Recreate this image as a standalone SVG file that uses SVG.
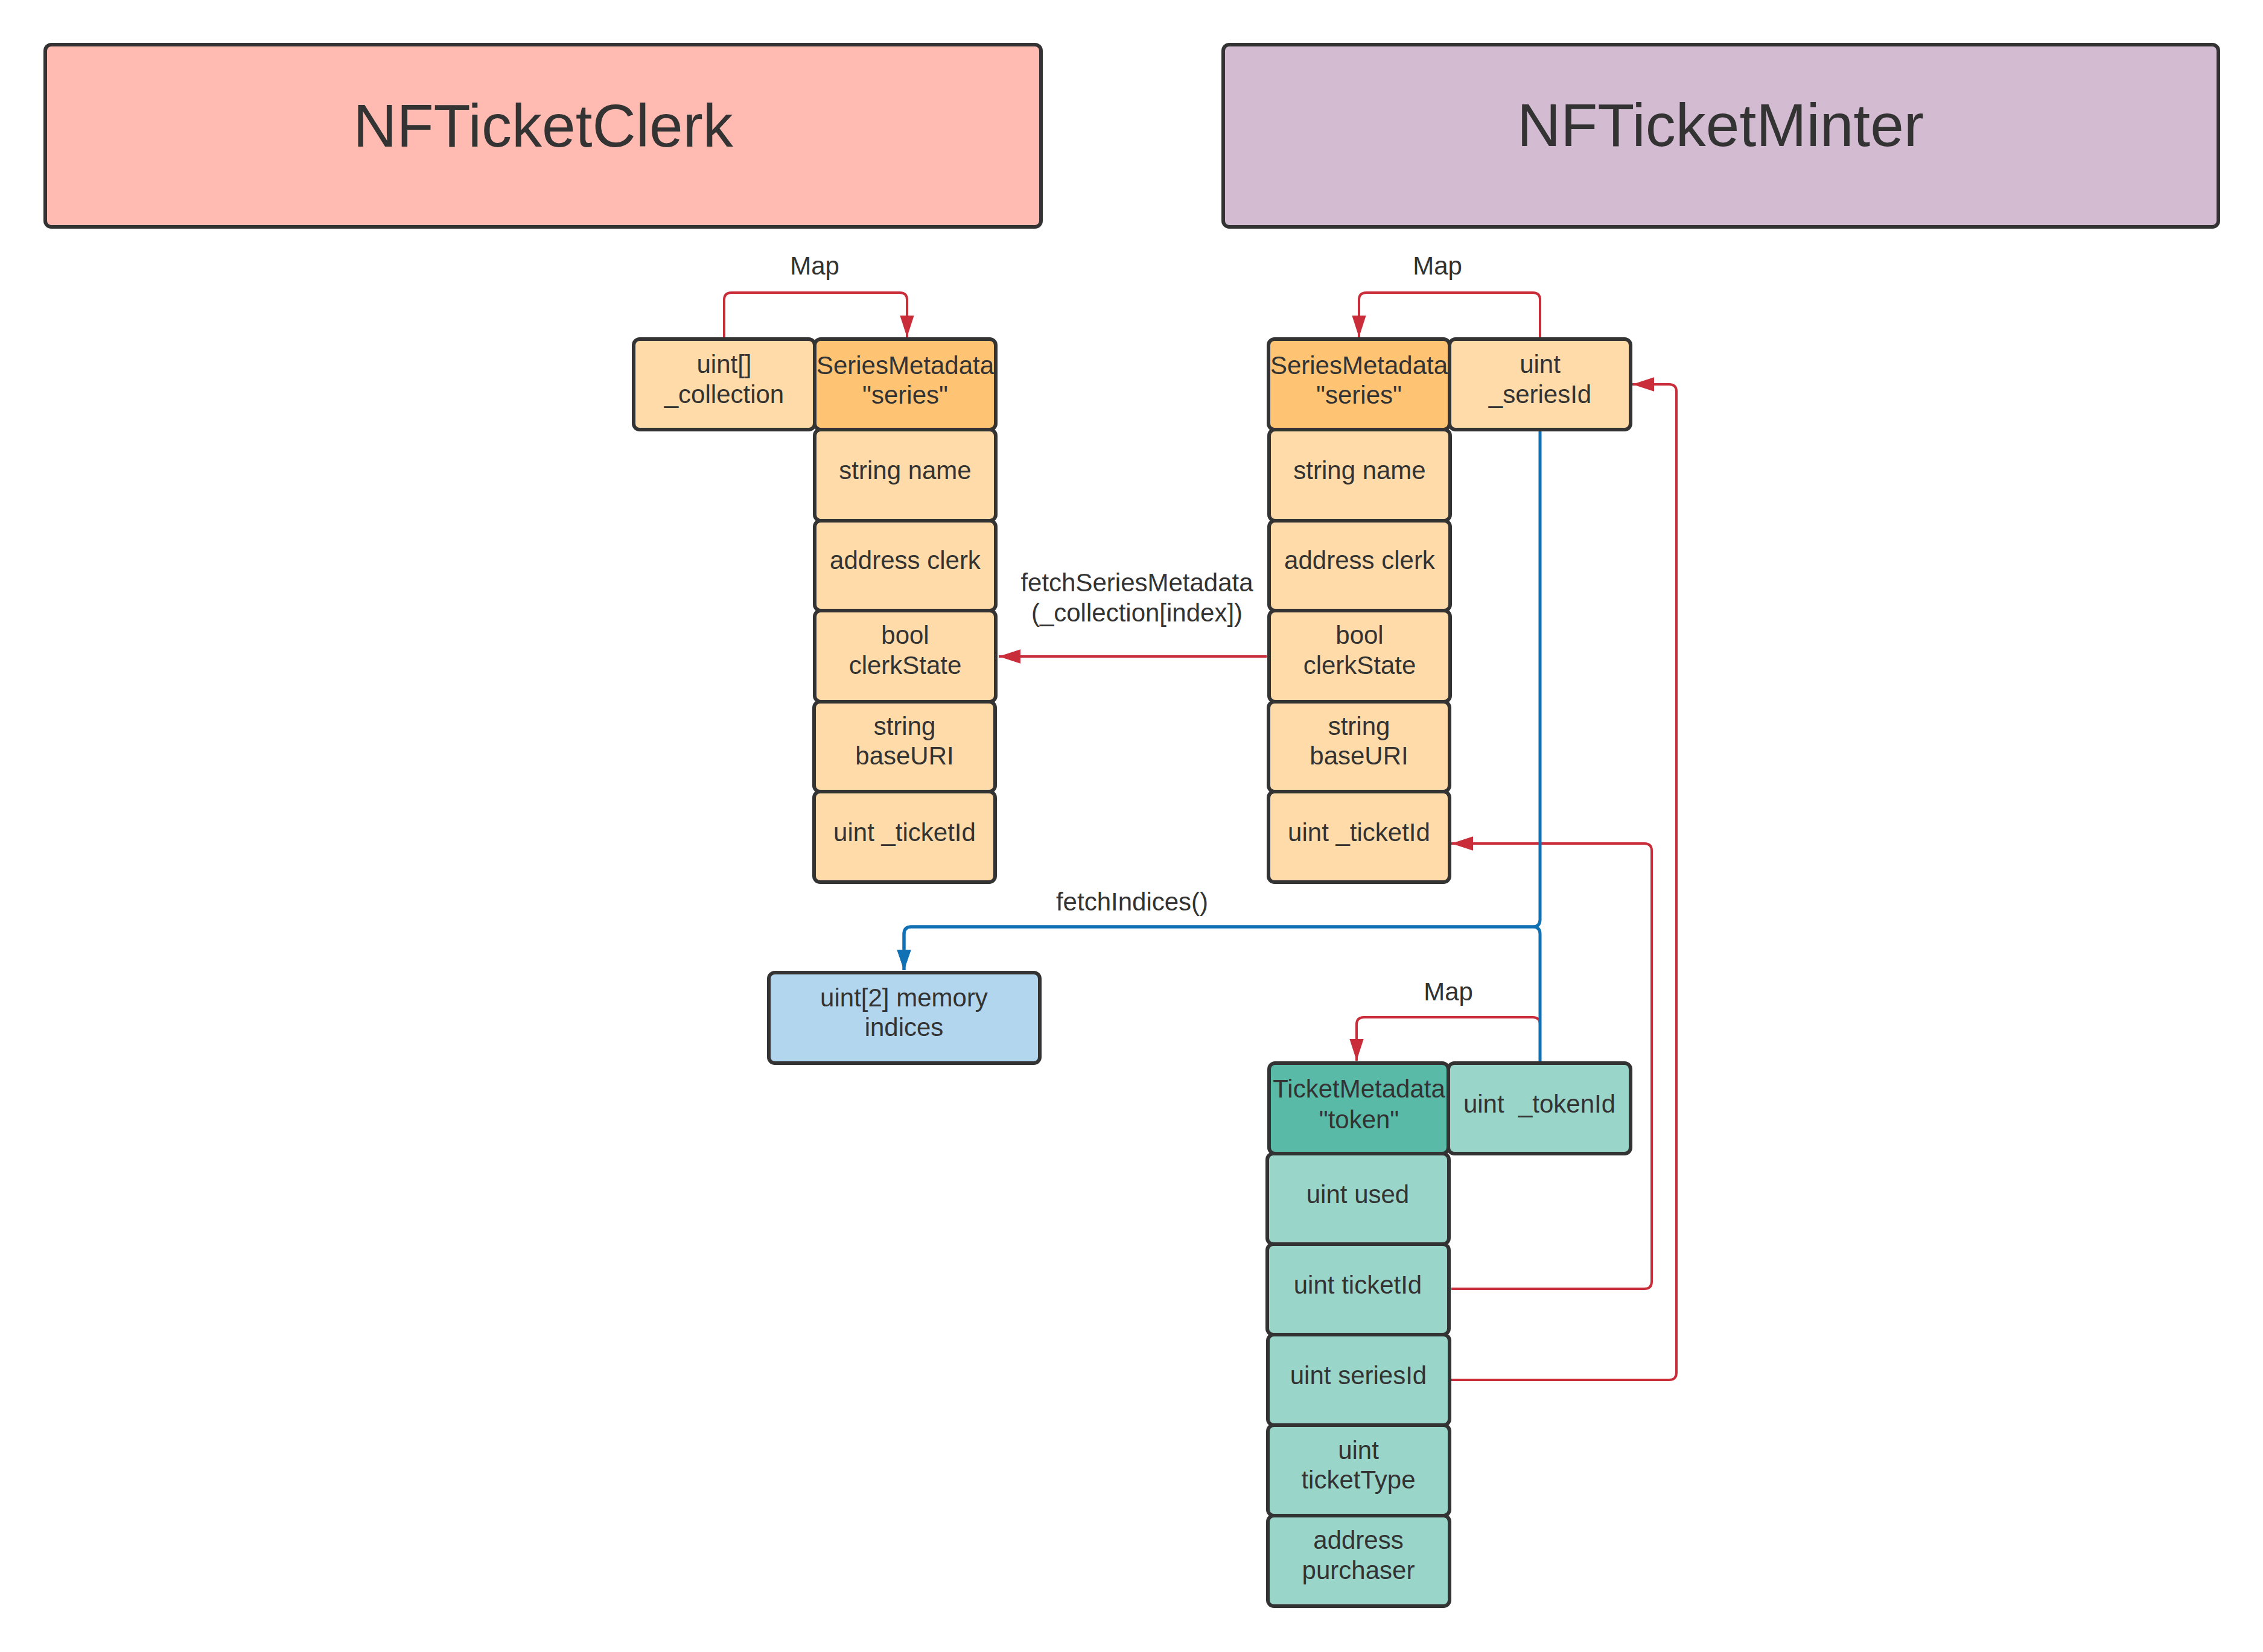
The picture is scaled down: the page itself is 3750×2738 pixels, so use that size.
<svg xmlns="http://www.w3.org/2000/svg" width="3750" height="2738" viewBox="0 0 3750 2738">
<defs>
<style>
.box{stroke:#333333;stroke-width:6}
.title{font-family:"Liberation Sans",Arial,sans-serif;font-size:100px;fill:#333333;text-anchor:middle}
.t{font-family:"Liberation Sans",Arial,sans-serif;font-size:42px;fill:#333333;text-anchor:middle;white-space:pre}
.lo{fill:#FFDBA9}
.ho{fill:#FFC374}
.lt{fill:#9AD5CA}
.ht{fill:#58BAA7}
.red{fill:none;stroke:#C92D39;stroke-width:4}
.blue{fill:none;stroke:#1071B5;stroke-width:5}
</style>
<marker id="ar" markerUnits="userSpaceOnUse" markerWidth="36" markerHeight="24" viewBox="0 0 34 22" refX="34" refY="11" orient="auto">
<path d="M0,0 L34,11 L0,22 z" fill="#C92D39"/>
</marker>
<marker id="ab" markerUnits="userSpaceOnUse" markerWidth="34" markerHeight="24" viewBox="0 0 32 22" refX="32" refY="11" orient="auto">
<path d="M0,0 L32,11 L0,22 z" fill="#1071B5"/>
</marker>
</defs>
<rect width="3750" height="2738" fill="#FFFFFF"/>

<g id="clerk-title">
<rect class="box" x="75" y="74" width="1650" height="302" rx="10" fill="#FFBBB1"/>
<text class="title" x="900" y="243">NFTicketClerk</text>
</g>
<g id="minter-title">
<rect class="box" x="2027" y="74" width="1649" height="302" rx="10" fill="#D3BCD2"/>
<text class="title" x="2851" y="242">NFTicketMinter</text>
</g>

<g id="connectors">
<path class="red" d="M1200 559 V497 Q1200 485 1212 485 H1491 Q1503 485 1503 497 V559" marker-end="url(#ar)"/>
<path class="red" d="M2552 559 V497 Q2552 485 2540 485 H2264 Q2252 485 2252 497 V559" marker-end="url(#ar)"/>
<path class="red" d="M2099 1088 H1655" marker-end="url(#ar)"/>
<path class="red" d="M2552 1759 V1698 Q2552 1686 2540 1686 H2260 Q2248 1686 2248 1698 V1758" marker-end="url(#ar)"/>
<path class="red" d="M2405 2136 H2725 Q2737 2136 2737 2124 V1410 Q2737 1398 2725 1398 H2405" marker-end="url(#ar)"/>
<path class="red" d="M2405 2287 H2766 Q2778 2287 2778 2275 V649 Q2778 637 2766 637 H2705" marker-end="url(#ar)"/>
<path class="blue" d="M2552 715 V1524 Q2552 1536 2540 1536 H1510 Q1498 1536 1498 1548 V1608" marker-end="url(#ab)"/>
<path class="blue" d="M2552 1759 V1548 Q2552 1536 2540 1536 H1510 Q1498 1536 1498 1548 V1608" marker-end="url(#ab)"/>
<text class="t" x="1350" y="455">Map</text>
<text class="t" x="2382" y="455">Map</text>
<text class="t" x="1884" y="980">fetchSeriesMetadata</text>
<text class="t" x="1884" y="1030">(_collection[index])</text>
<text class="t" x="1876" y="1509">fetchIndices()</text>
<text class="t" x="2400" y="1658">Map</text>
</g>

<g id="clerk-collection">
<rect class="box lo" x="1050" y="562" width="300" height="150" rx="10"/>
<text class="t" x="1200" y="618">uint[]</text>
<text class="t" x="1200" y="668">_collection</text>
</g>
<g id="clerk-series">
<rect class="box ho" x="1350" y="562" width="300" height="150" rx="10"/>
<text class="t" x="1500" y="620">SeriesMetadata</text>
<text class="t" x="1500" y="669">"series"</text>
</g>
<g id="clerk-name">
<rect class="box lo" x="1350" y="712" width="300" height="151" rx="10"/>
<text class="t" x="1500" y="794">string name</text>
</g>
<g id="clerk-clerk">
<rect class="box lo" x="1350" y="863" width="300" height="149" rx="10"/>
<text class="t" x="1500" y="943">address clerk</text>
</g>
<g id="clerk-state">
<rect class="box lo" x="1350" y="1012" width="300" height="151" rx="10"/>
<text class="t" x="1500" y="1067">bool</text>
<text class="t" x="1500" y="1117">clerkState</text>
</g>
<g id="clerk-baseuri">
<rect class="box lo" x="1349" y="1163" width="300" height="149" rx="10"/>
<text class="t" x="1499" y="1218">string</text>
<text class="t" x="1499" y="1267">baseURI</text>
</g>
<g id="clerk-ticketid">
<rect class="box lo" x="1349" y="1312" width="300" height="150" rx="10"/>
<text class="t" x="1499" y="1394">uint _ticketId</text>
</g>

<g id="minter-series">
<rect class="box ho" x="2102" y="562" width="300" height="150" rx="10"/>
<text class="t" x="2252" y="620">SeriesMetadata</text>
<text class="t" x="2252" y="669">"series"</text>
</g>
<g id="minter-seriesid">
<rect class="box lo" x="2402" y="562" width="300" height="150" rx="10"/>
<text class="t" x="2552" y="618">uint</text>
<text class="t" x="2552" y="668">_seriesId</text>
</g>
<g id="minter-name">
<rect class="box lo" x="2103" y="712" width="300" height="151" rx="10"/>
<text class="t" x="2253" y="794">string name</text>
</g>
<g id="minter-clerk">
<rect class="box lo" x="2103" y="863" width="300" height="149" rx="10"/>
<text class="t" x="2253" y="943">address clerk</text>
</g>
<g id="minter-state">
<rect class="box lo" x="2103" y="1012" width="300" height="151" rx="10"/>
<text class="t" x="2253" y="1067">bool</text>
<text class="t" x="2253" y="1117">clerkState</text>
</g>
<g id="minter-baseuri">
<rect class="box lo" x="2102" y="1163" width="300" height="149" rx="10"/>
<text class="t" x="2252" y="1218">string</text>
<text class="t" x="2252" y="1267">baseURI</text>
</g>
<g id="minter-ticketid">
<rect class="box lo" x="2102" y="1312" width="300" height="150" rx="10"/>
<text class="t" x="2252" y="1394">uint _ticketId</text>
</g>

<g id="indices">
<rect class="box" x="1274" y="1612" width="449" height="150" rx="10" fill="#B3D6EF"/>
<text class="t" x="1498" y="1668">uint[2] memory</text>
<text class="t" x="1498" y="1717">indices</text>
</g>

<g id="token-meta">
<rect class="box ht" x="2103" y="1762" width="297" height="150" rx="10"/>
<text class="t" x="2252" y="1819">TicketMetadata</text>
<text class="t" x="2252" y="1870">"token"</text>
</g>
<g id="token-id">
<rect class="box lt" x="2400" y="1762" width="302" height="150" rx="10"/>
<text class="t" x="2551" y="1844">uint  _tokenId</text>
</g>
<g id="token-used">
<rect class="box lt" x="2100" y="1912" width="301" height="150" rx="10"/>
<text class="t" x="2250" y="1994">uint used</text>
</g>
<g id="token-ticketid">
<rect class="box lt" x="2100" y="2062" width="301" height="150" rx="10"/>
<text class="t" x="2250" y="2144">uint ticketId</text>
</g>
<g id="token-seriesid">
<rect class="box lt" x="2101" y="2212" width="301" height="150" rx="10"/>
<text class="t" x="2251" y="2294">uint seriesId</text>
</g>
<g id="token-type">
<rect class="box lt" x="2101" y="2362" width="301" height="150" rx="10"/>
<text class="t" x="2251" y="2418">uint</text>
<text class="t" x="2251" y="2467">ticketType</text>
</g>
<g id="token-purchaser">
<rect class="box lt" x="2101" y="2512" width="301" height="150" rx="10"/>
<text class="t" x="2251" y="2567">address</text>
<text class="t" x="2251" y="2617">purchaser</text>
</g>
</svg>
